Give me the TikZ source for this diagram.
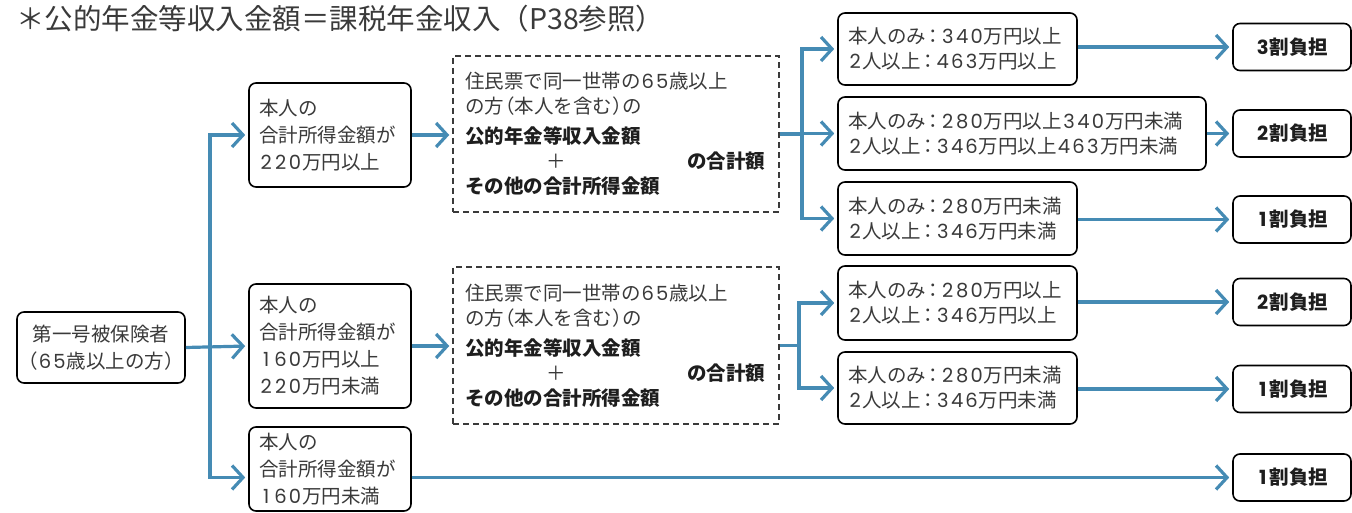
\documentclass[tikz,border=0pt]{standalone}
\usepackage{fontspec}
\setmainfont{Noto Sans CJK JP}
\newfontfamily\digf{Poppins}
\usetikzlibrary{arrows.meta}
\definecolor{lineblue}{HTML}{458BB4}
\definecolor{txt}{HTML}{3A3A3A}
\definecolor{txtb}{HTML}{1E1E1E}
\makeatletter
\def\dg@loop#1{\ifx#1\relax\else\makebox[0.74em]{\digf #1}\expandafter\dg@loop\fi}
\newcommand\nm[1]{\dg@loop#1\relax}
\makeatother
\newcommand\cln{\makebox[0.75em]{：}}
\newcommand\lp{\makebox[0.55em][r]{（}}
\newcommand\rp{\makebox[0.55em][l]{）}}
\newcommand\bt[1]{{\bfseries\color{txtb}#1}}
\tikzset{
  box/.style={draw=black, line width=1.6pt, rounded corners=7pt, fill=white, text=txt,
    font=\fontsize{19.5}{27}\selectfont, inner xsep=10pt, inner ysep=0pt, align=left},
  lbox/.style={box, text width=142pt},
  rbox/.style={box, font=\fontsize{19.5}{25}\selectfont},
  tbox/.style={box, align=center, text=txtb, font=\fontsize{19.5}{25}\selectfont\bfseries,
    minimum width=118pt, minimum height=47pt, inner xsep=0pt},
  dbox/.style={draw=txt, line width=1.5pt, dash pattern=on 6pt off 4pt, text=txt,
    font=\fontsize{19.5}{25}\selectfont, inner xsep=12pt, inner ysep=0pt, align=left,
    text width=302pt, minimum width=326pt, minimum height=156pt},
  ln/.style={draw=lineblue, line width=3.2pt},
  arr/.style={ln, -{Straight Barb[length=11pt,width=24pt]}, shorten >=3pt}
}
\begin{document}
\begin{tikzpicture}[x=1pt,y=-1pt]
\useasboundingbox (0,0) rectangle (1352,513);
\node[anchor=west, text=txt, font=\fontsize{28.5}{30}\selectfont, inner sep=0pt] (title) at (16,19) {＊公的年金等収入金額＝課税年金収入（P38参照）};

\node[box, align=center, minimum width=168pt, minimum height=71pt, inner xsep=4pt] (S) at (101,347.5) {第一号被保険者\\\lp\nm{65}歳以上の方\rp};

\node[lbox, minimum height=104pt] (A) at (330,135) {本人の\\合計所得金額が\\\nm{220}万円以上};
\node[lbox, minimum height=124pt] (B) at (330,346) {本人の\\合計所得金額が\\\nm{160}万円以上\\\nm{220}万円未満};
\node[lbox, minimum height=84pt] (C) at (330,469) {本人の\\合計所得金額が\\\nm{160}万円未満};

\node[dbox] (D1) at (616,134) {住民票で同一世帯の\nm{65}歳以上\\の方\lp 本人を含む\rp の\\[5pt]\bt{公的年金等収入金額}\\\makebox[182pt]{＋}\hspace{40pt}\bt{の合計額}\\\bt{その他の合計所得金額}};
\node[dbox, minimum height=157pt] (D2) at (616,345.5) {住民票で同一世帯の\nm{65}歳以上\\の方\lp 本人を含む\rp の\\[5pt]\bt{公的年金等収入金額}\\\makebox[182pt]{＋}\hspace{40pt}\bt{の合計額}\\\bt{その他の合計所得金額}};

\node[rbox, text width=219pt, minimum width=239pt, minimum height=72pt] (R1) at (957.5,49) {本人のみ\cln\nm{340}万円以上\\\nm{2}人以上\cln\nm{463}万円以上};
\node[rbox, text width=348pt, minimum width=368pt, minimum height=73pt] (R2) at (1022,133.5) {本人のみ\cln\nm{280}万円以上\nm{340}万円未満\\\nm{2}人以上\cln\nm{346}万円以上\nm{463}万円未満};
\node[rbox, text width=219pt, minimum width=239pt, minimum height=73pt] (R3) at (957.5,218.5) {本人のみ\cln\nm{280}万円未満\\\nm{2}人以上\cln\nm{346}万円未満};
\node[rbox, text width=219pt, minimum width=239pt, minimum height=74pt] (R4) at (957.5,303) {本人のみ\cln\nm{280}万円以上\\\nm{2}人以上\cln\nm{346}万円以上};
\node[rbox, text width=219pt, minimum width=239pt, minimum height=72pt] (R5) at (957.5,388) {本人のみ\cln\nm{280}万円未満\\\nm{2}人以上\cln\nm{346}万円未満};

\node[tbox] (T1) at (1292,47) {\nm{3}割負担};
\node[tbox] (T2) at (1292,133.5) {\nm{2}割負担};
\node[tbox] (T3) at (1292,219.5) {\nm{1}割負担};
\node[tbox] (T4) at (1292,302) {\nm{2}割負担};
\node[tbox] (T5) at (1292,389) {\nm{1}割負担};
\node[tbox] (T6) at (1292,477.5) {\nm{1}割負担};

% connectors
\coordinate (tr) at (210,347.5);
\coordinate (b1) at (802,134);
\coordinate (b2) at (799,345.5);
\draw[arr] (S.east) -- (B.west);
\draw[arr] (tr) |- (A.west);
\draw[arr] (tr) |- (C.west |- T6.west);
\draw[arr] (A.east) -- (A.east -| D1.west);
\draw[arr] (B.east) -- (B.east -| D2.west);
\draw[arr] (C.east |- T6.west) -- (T6.west);
\draw[ln] (D1.east) -- (b1);
\draw[arr] (b1) |- (R1.west);
\draw[arr] (b1) |- (R2.west);
\draw[arr] (b1) |- (R3.west);
\draw[ln] (D2.east) -- (b2);
\draw[arr] (b2) |- (R4.west);
\draw[arr] (b2) |- (R5.west);
\draw[arr] (R1.east |- T1.west) -- (T1.west);
\draw[arr] (R2.east) -- (T2.west);
\draw[arr] (R3.east |- T3.west) -- (T3.west);
\draw[arr] (R4.east |- T4.west) -- (T4.west);
\draw[arr] (R5.east |- T5.west) -- (T5.west);
\end{tikzpicture}
\end{document}
